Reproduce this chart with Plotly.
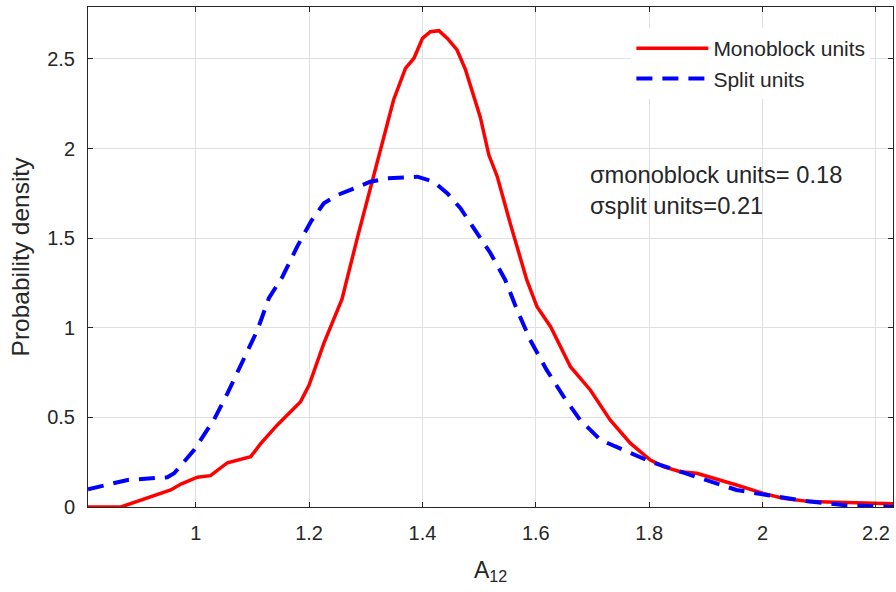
import plotly.graph_objects as go

# ---- data ----
mono_x = [0.81, 0.868, 0.956, 0.974, 1.003, 1.026, 1.056, 1.097, 1.115, 1.144, 1.185, 1.2, 1.226, 1.258,
          1.285, 1.314, 1.335, 1.349, 1.37, 1.385, 1.4, 1.414, 1.429, 1.444, 1.461, 1.476, 1.502, 1.517,
          1.532, 1.555, 1.584, 1.602, 1.626, 1.661, 1.696, 1.731, 1.767, 1.802, 1.825, 1.855, 1.884,
          1.919, 1.954, 2.001, 2.036, 2.083, 2.142, 2.2, 2.235]
mono_y = [0.0, 0.0, 0.095, 0.128, 0.166, 0.175, 0.247, 0.281, 0.355, 0.458, 0.588, 0.681, 0.913, 1.16,
          1.5, 1.843, 2.104, 2.271, 2.448, 2.504, 2.615, 2.652, 2.658, 2.615, 2.55, 2.439, 2.175, 1.965,
          1.843, 1.58, 1.267, 1.118, 1.006, 0.783, 0.653, 0.486, 0.355, 0.262, 0.225, 0.197, 0.188,
          0.156, 0.123, 0.076, 0.049, 0.03, 0.024, 0.02, 0.017]

split_x = [0.81, 0.88, 0.95, 0.962, 0.997, 1.032, 1.056, 1.085, 1.109, 1.129, 1.153, 1.179, 1.203, 1.226,
           1.25, 1.273, 1.308, 1.338, 1.391, 1.42, 1.444, 1.467, 1.496, 1.52, 1.546, 1.567, 1.59, 1.619,
           1.649, 1.678, 1.714, 1.767, 1.802, 1.855, 1.895, 1.954, 2.007, 2.071, 2.142, 2.2, 2.235]
split_y = [0.099, 0.151, 0.166, 0.188, 0.318, 0.486, 0.634, 0.83, 0.988, 1.165, 1.285, 1.453, 1.592, 1.695,
           1.741, 1.769, 1.815, 1.834, 1.843, 1.815, 1.75, 1.667, 1.527, 1.416, 1.267, 1.099, 0.932, 0.765,
           0.616, 0.486, 0.374, 0.3, 0.253, 0.197, 0.156, 0.095, 0.067, 0.035, 0.011, 0.002, 0.0]

x_ticks = [1, 1.2, 1.4, 1.6, 1.8, 2, 2.2]
x_tick_labels = ["1", "1.2", "1.4", "1.6", "1.8", "2", "2.2"]
y_ticks = [0, 0.5, 1, 1.5, 2, 2.5]
y_tick_labels = ["0", "0.5", "1", "1.5", "2", "2.5"]

series_names = ["Monoblock units", "Split units"]
sigma_lines = ["σmonoblock units= 0.18", "σsplit units=0.21"]

FONT = "Liberation Sans, Arial, Helvetica, sans-serif"
TXT = "#262626"

fig = go.Figure()
fig.add_trace(go.Scatter(x=mono_x, y=mono_y, mode="lines", name=series_names[0],
                         line=dict(color="#ff0000", width=3.5)))
fig.add_trace(go.Scatter(x=split_x, y=split_y, mode="lines", name=series_names[1],
                         line=dict(color="#0000ff", width=4, dash="16px,10px")))

axis_common = dict(
    showline=True, linecolor=TXT, linewidth=1, mirror="ticks",
    ticks="inside", ticklen=5, tickcolor=TXT,
    showgrid=True, gridcolor="#e0e0e0", gridwidth=1, zeroline=False,
    tickfont=dict(family=FONT, size=20, color=TXT),
)

fig.update_xaxes(range=[0.81, 2.23], tickvals=x_ticks, ticktext=x_tick_labels,
                 ticklabelstandoff=8,
                 title=dict(text="A<sub>12</sub>", font=dict(family=FONT, size=23, color=TXT), standoff=18),
                 **axis_common)
fig.update_yaxes(range=[0, 2.79], tickvals=y_ticks, ticktext=y_tick_labels,
                 ticklabelstandoff=8,
                 title=dict(text="Probability density", font=dict(family=FONT, size=24.5, color=TXT), standoff=10),
                 **axis_common)

fig.add_annotation(x=0.621, y=0.664, xref="paper", yref="paper", xanchor="left", yanchor="middle",
                   text=sigma_lines[0], showarrow=False, font=dict(family=FONT, size=23.7, color=TXT))
fig.add_annotation(x=0.621, y=0.602, xref="paper", yref="paper", xanchor="left", yanchor="middle",
                   text=sigma_lines[1], showarrow=False, font=dict(family=FONT, size=23.7, color=TXT))

fig.update_layout(
    width=896, height=592,
    margin=dict(l=88, r=3, t=7, b=85),
    paper_bgcolor="white", plot_bgcolor="white",
    font=dict(family=FONT, size=20, color=TXT),
    legend=dict(x=0.675, y=0.958, xanchor="left", yanchor="top",
                bgcolor="white", borderwidth=0, itemwidth=72,
                font=dict(family=FONT, size=21, color=TXT), tracegroupgap=0),
    showlegend=True,
)

# remove the browser's default 8px page margin so the 896x592 figure fills the window exactly
page_fix = ("document.body.style.margin='0px';"
            "document.body.style.overflow='hidden';"
            "document.documentElement.style.overflow='hidden';")

fig.write_html("out.html", post_script=page_fix, config={"displayModeBar": False})
